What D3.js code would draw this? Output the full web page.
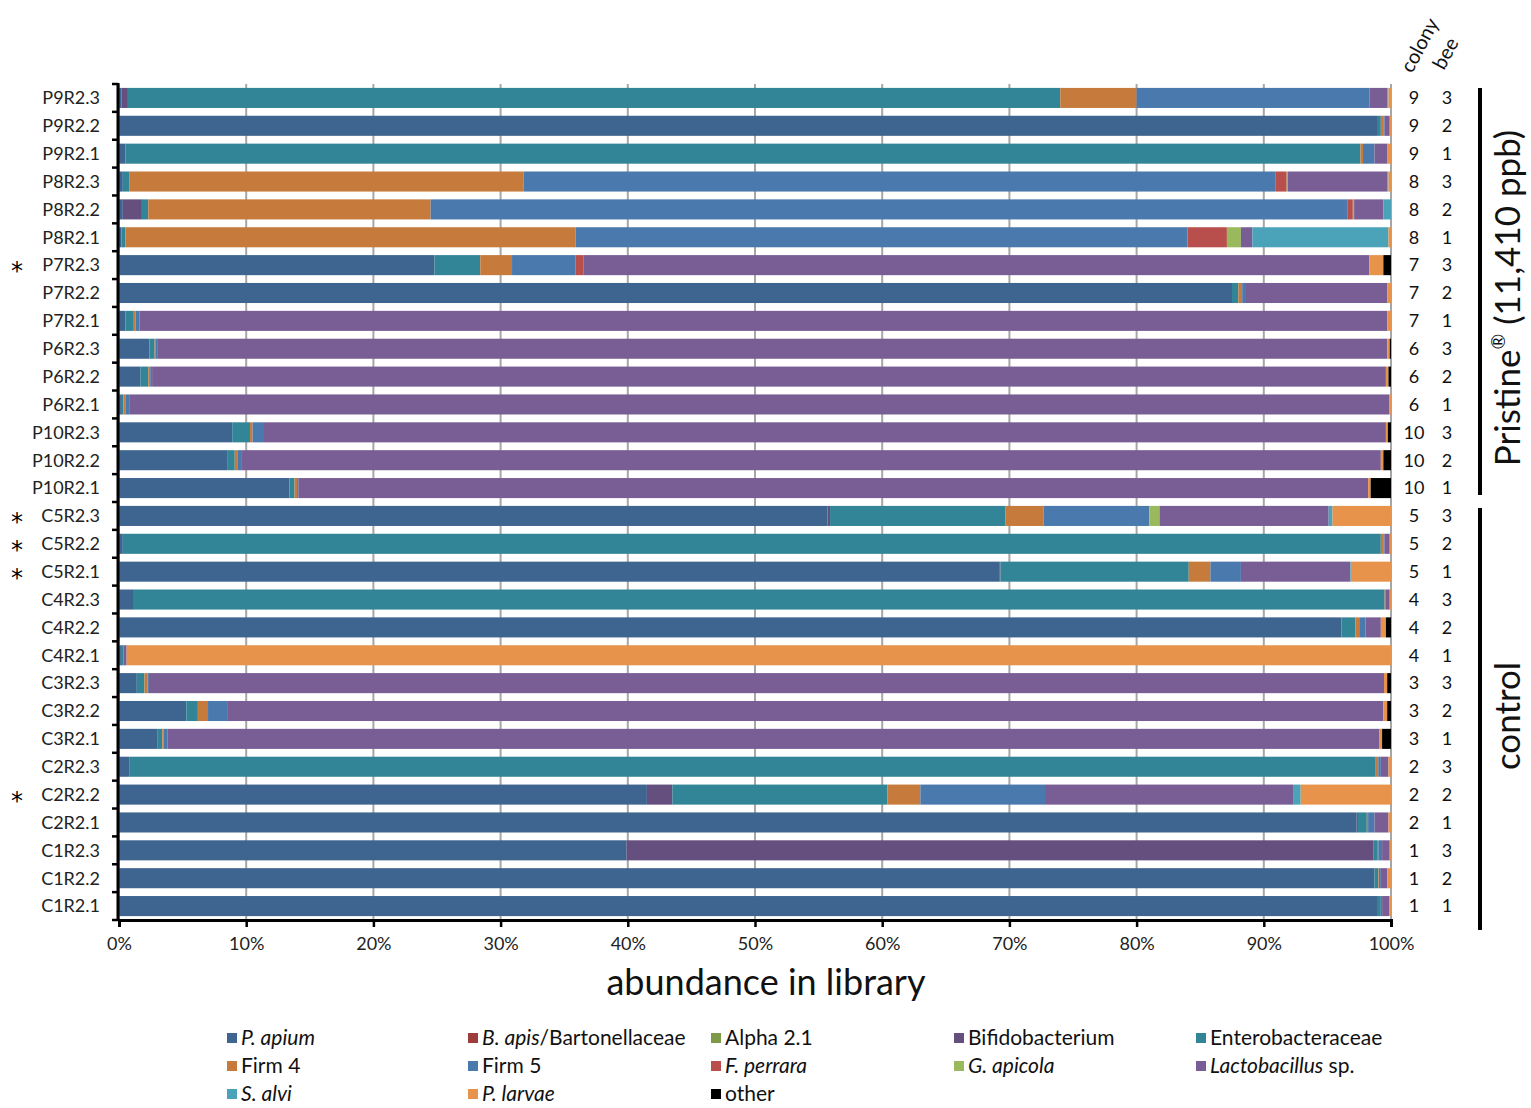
<!DOCTYPE html>
<html><head><meta charset="utf-8">
<script src="https://cdn.jsdelivr.net/npm/d3@7"></script>
<style>body{margin:0;background:#fff}svg{display:block}</style>
</head><body>
<script>
const samples = ["P9R2.3","P9R2.2","P9R2.1","P8R2.3","P8R2.2","P8R2.1","P7R2.3","P7R2.2","P7R2.1","P6R2.3","P6R2.2","P6R2.1","P10R2.3","P10R2.2","P10R2.1","C5R2.3","C5R2.2","C5R2.1","C4R2.3","C4R2.2","C4R2.1","C3R2.3","C3R2.2","C3R2.1","C2R2.3","C2R2.2","C2R2.1","C1R2.3","C1R2.2","C1R2.1"];
const colony = [9,9,9,8,8,8,7,7,7,6,6,6,10,10,10,5,5,5,4,4,4,3,3,3,2,2,2,1,1,1];
const bee = [3,2,1,3,2,1,3,2,1,3,2,1,3,2,1,3,2,1,3,2,1,3,2,1,3,2,1,3,2,1];
const starred = ["P7R2.3","C5R2.3","C5R2.2","C5R2.1","C2R2.2"];

const pApium   = [0.2,98.9,0.5,0.3,0.3,0.2,24.8,87.5,0.5,2.4,1.7,0.15,8.9,8.5,13.4,55.7,0.3,69.2,1.1,96.1,0.15,1.4,5.3,3.0,0.8,41.5,97.3,39.9,98.7,98.9];
const bApis    = [0,0,0,0,0,0,0,0,0,0,0,0,0,0,0,0,0,0,0,0,0,0,0,0,0,0,0,0,0,0];
const alpha21  = [0,0,0,0,0,0,0,0,0,0,0,0,0,0,0,0,0,0,0,0,0,0,0,0,0,0,0,0,0,0];
const bifido   = [0.5,0,0,0,1.5,0,0,0,0,0,0,0,0,0,0,0.2,0,0.1,0,0,0,0,0,0,0,2.0,0.1,58.7,0,0];
const entero   = [73.3,0.3,97.1,0.5,0.5,0.3,3.6,0.5,0.6,0.4,0.6,0.2,1.4,0.6,0.4,13.8,98.9,14.8,98.4,1.1,0.2,0.6,0.9,0.4,98.0,16.9,0.7,0.3,0.3,0.3];
const firm4    = [6.0,0.2,0.2,31.0,22.2,35.4,2.5,0.3,0.2,0.1,0.15,0.15,0.2,0.2,0.2,3.0,0.2,1.7,0.1,0.3,0,0.25,0.8,0.1,0.2,2.6,0.1,0.1,0.05,0];
const firm5    = [18.3,0.1,0.9,59.1,72.1,48.1,5.0,0.3,0.3,0.1,0.15,0.3,0.9,0.3,0.1,8.3,0.1,2.4,0,0.5,0,0.1,1.5,0.3,0.2,9.8,0.5,0.3,0.15,0.1];
const fPerrara = [0,0,0,0.9,0.4,3.1,0.6,0,0,0,0,0,0,0,0,0,0,0,0,0,0,0,0,0,0,0,0,0,0,0];
const gApicola = [0,0,0,0.1,0.1,1.1,0,0,0,0,0,0,0,0,0,0.8,0,0,0,0,0,0,0,0,0,0,0,0,0,0];
const lacto    = [1.4,0.4,1.0,7.8,2.3,0.9,61.8,11.1,98.1,96.7,97.0,99.05,88.2,89.6,84.1,13.3,0.4,8.6,0.3,1.2,0.25,97.1,90.9,95.3,0.6,19.5,1.1,0.6,0.5,0.55];
const sAlvi    = [0.1,0,0.05,0.1,0.6,10.7,0,0,0,0,0,0,0,0,0,0.3,0,0.05,0,0,0,0,0,0,0,0.6,0,0,0,0];
const pLarvae  = [0.2,0.1,0.3,0.2,0,0.2,1.1,0.3,0.3,0.2,0.2,0.15,0.15,0.2,0.2,4.6,0.1,3.15,0.1,0.4,99.4,0.25,0.3,0.2,0.2,7.1,0.2,0.1,0.3,0.15];
const other    = [0,0,0,0,0,0,0.6,0,0,0.1,0.2,0,0.25,0.6,1.6,0,0,0,0,0.4,0,0.3,0.3,0.7,0,0,0,0,0,0];

const xTicks = [0,10,20,30,40,50,60,70,80,90,100];

const seriesDefs = [
  {key:"pApium", vals:pApium, color:"#3e6490", label:[["P. apium",true]]},
  {key:"bApis", vals:bApis, color:"#9c3d3b", label:[["B. apis",true],["/Bartonellaceae",false]]},
  {key:"alpha21", vals:alpha21, color:"#7e9a48", label:[["Alpha 2.1",false]]},
  {key:"bifido", vals:bifido, color:"#644f7f", label:[["Bifidobacterium",false]]},
  {key:"entero", vals:entero, color:"#328597", label:[["Enterobacteraceae",false]]},
  {key:"firm4", vals:firm4, color:"#c67b3d", label:[["Firm 4",false]]},
  {key:"firm5", vals:firm5, color:"#4a79ad", label:[["Firm 5",false]]},
  {key:"fPerrara", vals:fPerrara, color:"#b94f4c", label:[["F. perrara",true]]},
  {key:"gApicola", vals:gApicola, color:"#99b95c", label:[["G. apicola",true]]},
  {key:"lacto", vals:lacto, color:"#795e96", label:[["Lactobacillus",true],[" sp.",false]]},
  {key:"sAlvi", vals:sAlvi, color:"#4ba3b9", label:[["S. alvi",true]]},
  {key:"pLarvae", vals:pLarvae, color:"#e8934c", label:[["P. larvae",true]]},
  {key:"other", vals:other, color:"#000000", label:[["other",false]]}
];

const W = 1531, H = 1108;
const font = "Lato, 'Open Sans', sans-serif";
const svg = d3.select("body").append("svg").attr("width", W).attr("height", H);

const x = d3.scaleLinear().domain([0,100]).range([119,1391]);
const y = d3.scaleBand().domain(samples).range([84,920]).paddingInner(0.28).paddingOuter(0.14);

// gridlines
svg.append("g").selectAll("line").data(xTicks).join("line")
  .attr("x1", d=>x(d)).attr("x2", d=>x(d)).attr("y1", 84).attr("y2", 920)
  .attr("stroke", "#a6a6a6").attr("stroke-width", 2);

// stacked data
const table = samples.map((s,i)=>{ const o={sample:s}; seriesDefs.forEach(sd=>o[sd.key]=sd.vals[i]); return o; });
const stack = d3.stack().keys(seriesDefs.map(s=>s.key));
const layers = stack(table);

const gBars = svg.append("g");
layers.forEach((layer, li)=>{
  gBars.append("g").attr("fill", seriesDefs[li].color).selectAll("rect")
    .data(layer.filter(d=>d[1]-d[0]>0)).join("rect")
    .attr("x", d=>x(d[0])).attr("width", d=>x(d[1])-x(d[0]))
    .attr("y", d=>y(d.data.sample)).attr("height", y.bandwidth());
});

// y axis
const yAxisG = svg.append("g");
yAxisG.append("line").attr("x1",118).attr("x2",118).attr("y1",83).attr("y2",921).attr("stroke","#000").attr("stroke-width",3);
const bounds = samples.map(s=>y(s)-y.step()*y.paddingInner()/2).concat([920]);
yAxisG.selectAll("line.t").data(bounds).join("line").attr("class","t")
  .attr("x1",112).attr("x2",118).attr("y1",d=>d).attr("y2",d=>d).attr("stroke","#000").attr("stroke-width",2.5);
yAxisG.selectAll("text").data(samples).join("text")
  .attr("x",100).attr("y",d=>y(d)+y.bandwidth()/2).attr("dy","0.35em")
  .attr("text-anchor","end").attr("font-family",font).attr("font-size",18).attr("fill","#222").text(d=>d);

// asterisks
svg.append("g").selectAll("text").data(starred).join("text")
  .attr("x",17).attr("y",d=>y(d)+y.bandwidth()/2+14).attr("text-anchor","middle")
  .attr("font-family","'DejaVu Sans', sans-serif").attr("font-size",24).attr("fill","#000").text("*");

// x axis
const xAxis = d3.axisBottom(x).tickValues(xTicks).tickFormat(d=>d+"%").tickSize(7).tickPadding(10);
const xg = svg.append("g").attr("transform","translate(0,920)").call(xAxis);
xg.select(".domain").attr("stroke","#000").attr("stroke-width",3);
xg.selectAll(".tick line").attr("stroke","#000").attr("stroke-width",2.5);
xg.selectAll(".tick text").attr("font-family",font).attr("font-size",18).attr("fill","#222");

svg.append("text").attr("x",766).attr("y",995).attr("text-anchor","middle")
  .attr("font-family",font).attr("font-size",36).attr("fill","#111").text("abundance in library");

// colony / bee columns
const colG = svg.append("g").attr("font-family",font).attr("font-size",18).attr("fill","#111");
colG.selectAll("text.c").data(samples).join("text").attr("class","c")
  .attr("x",1414).attr("y",(d,i)=>y(d)+y.bandwidth()/2).attr("dy","0.35em").attr("text-anchor","middle")
  .text((d,i)=>colony[i]);
colG.selectAll("text.b").data(samples).join("text").attr("class","b")
  .attr("x",1447).attr("y",(d,i)=>y(d)+y.bandwidth()/2).attr("dy","0.35em").attr("text-anchor","middle")
  .text((d,i)=>bee[i]);
svg.append("text").attr("transform","translate(1412,74) rotate(-62)")
  .attr("font-family",font).attr("font-size",20).attr("fill","#111").text("colony");
svg.append("text").attr("transform","translate(1444,71) rotate(-62)")
  .attr("font-family",font).attr("font-size",20).attr("fill","#111").text("bee");

// group brackets
svg.append("line").attr("x1",1480).attr("x2",1480).attr("y1",88).attr("y2",495).attr("stroke","#000").attr("stroke-width",4);
svg.append("line").attr("x1",1480).attr("x2",1480).attr("y1",508).attr("y2",930).attr("stroke","#000").attr("stroke-width",4);
const pt = svg.append("text").attr("transform","translate(1520,298) rotate(-90)").attr("text-anchor","middle")
  .attr("font-family",font).attr("font-size",35).attr("fill","#111");
pt.append("tspan").text("Pristine");
pt.append("tspan").attr("font-size",19).attr("dy",-15).text("®");
pt.append("tspan").attr("dy",15).text(" (11,410 ppb)");
svg.append("text").attr("transform","translate(1520,716) rotate(-90)").attr("text-anchor","middle")
  .attr("font-family",font).attr("font-size",35).attr("fill","#111").text("control");

// legend
const legCols = [227,468,711,954,1196];
const legRows = [1038,1066,1094];
const lg = svg.append("g");
seriesDefs.forEach((sd,i)=>{
  const cx = legCols[i%5], cy = legRows[Math.floor(i/5)];
  lg.append("rect").attr("x",cx).attr("y",cy-5).attr("width",10).attr("height",10).attr("fill",sd.color);
  const t = lg.append("text").attr("x",cx+14).attr("y",cy).attr("dy","0.35em")
    .attr("font-family",font).attr("font-size",21).attr("fill","#111");
  sd.label.forEach(([s,it])=>t.append("tspan").attr("font-style",it?"italic":"normal").text(s));
});
</script>
</body></html>
